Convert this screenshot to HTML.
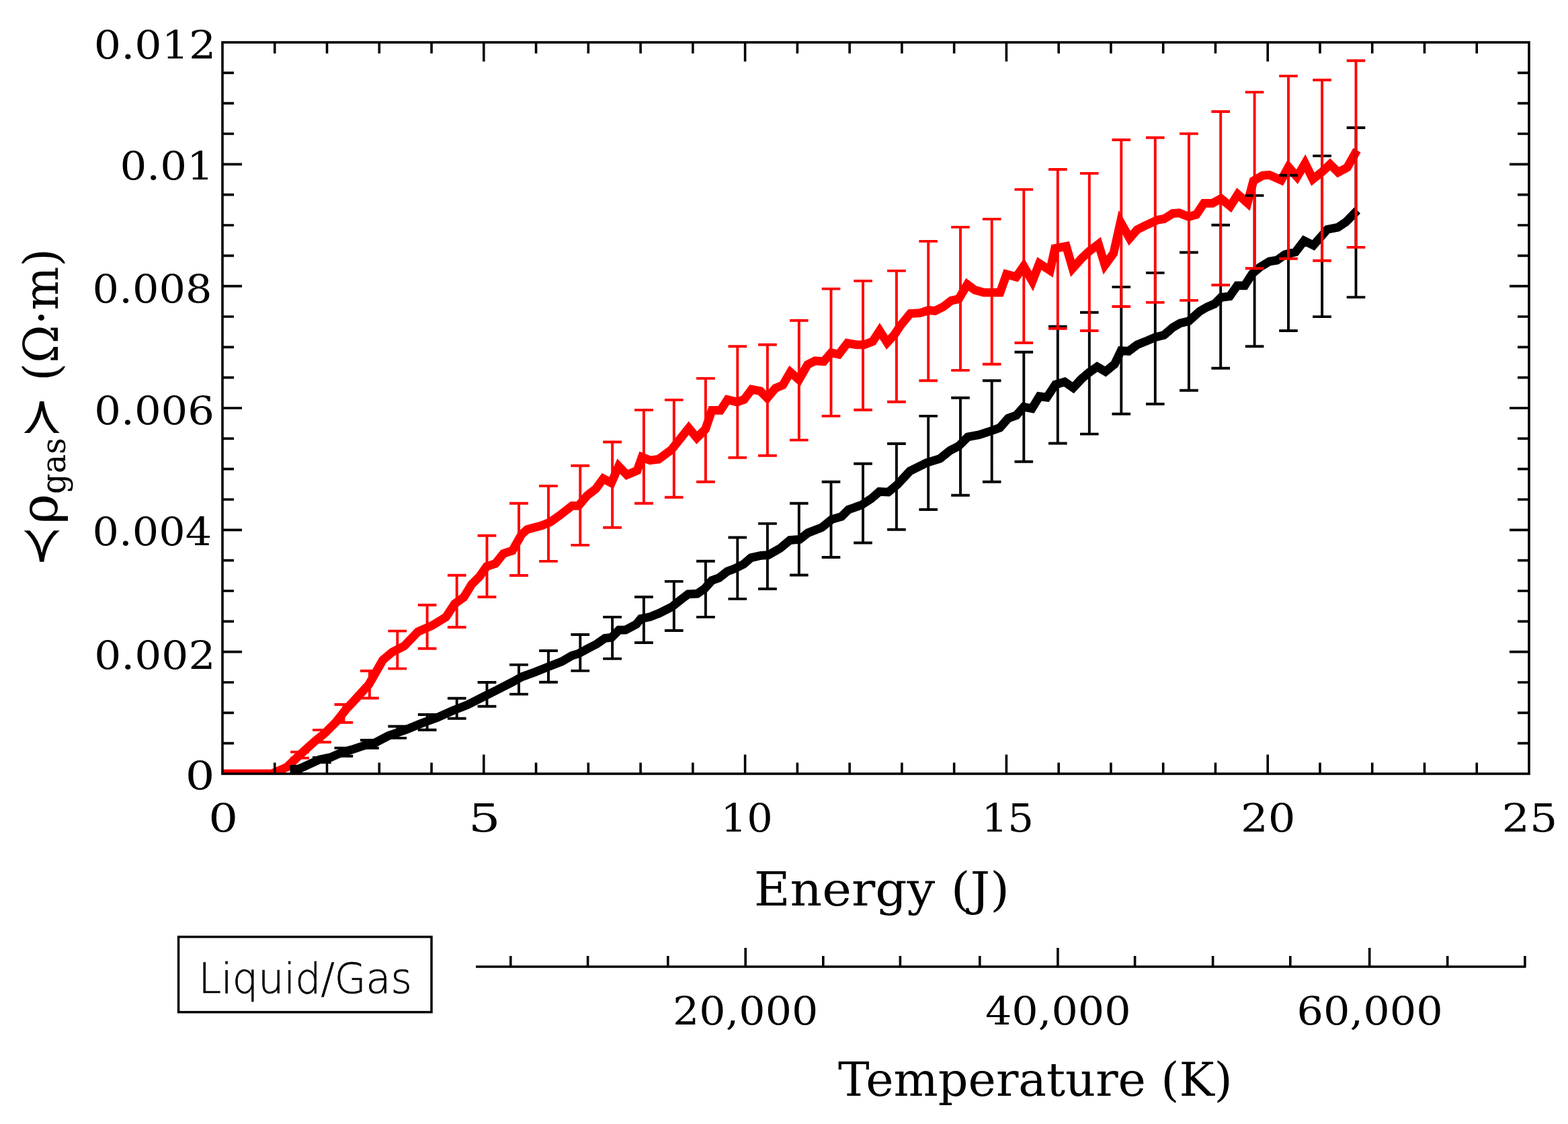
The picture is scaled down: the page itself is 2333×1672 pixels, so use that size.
<!DOCTYPE html><html><head><meta charset="utf-8"><title>Resistivity vs Energy</title><style>html,body{margin:0;padding:0;background:#fff;}body{width:2333px;height:1672px;overflow:hidden;}svg{display:block;}text{font-family:"DejaVu Serif","Liberation Serif",serif;fill:#000;}</style></head><body>
<svg width="2333" height="1672" viewBox="0 0 2333 1672">
<rect x="0" y="0" width="2333" height="1672" fill="#fff"/>
<defs><clipPath id="pc"><rect x="331.0" y="63.0" width="1944.0" height="1088.0"/></clipPath></defs>
<g clip-path="url(#pc)" fill="none" stroke-linejoin="miter" stroke-miterlimit="4">
<polyline points="331.0,1151.0 404.0,1151.0 427.0,1141.0 446.0,1123.0 468.0,1103.0 478.0,1095.0 485.0,1089.0 492.0,1082.0 500.0,1074.0 515.0,1055.0 530.0,1039.0 549.0,1018.0 569.5,982.0 583.6,970.0 601.4,961.0 622.0,939.5 642.7,930.6 663.4,918.0 676.7,898.1 690.0,888.5 701.8,869.3 713.6,857.5 724.0,842.7 737.3,838.3 749.0,823.5 762.4,819.1 776.0,795.0 784.5,787.5 806.4,781.6 819.2,776.3 832.0,767.2 851.2,752.3 860.8,752.3 873.6,737.1 886.4,727.2 897.6,712.0 909.6,718.4 920.5,693.6 932.8,706.4 948.0,700.0 955.2,680.0 967.2,684.8 980.0,683.2 999.2,668.8 1024.8,636.8 1036.8,651.2 1049.6,638.4 1059.2,610.4 1072.0,610.4 1082.4,594.5 1096.8,598.0 1107.2,594.4 1118.4,579.2 1131.2,581.6 1141.6,592.0 1153.6,577.6 1164.8,572.8 1176.0,553.6 1188.8,564.8 1201.6,542.4 1212.8,536.8 1225.6,537.6 1236.8,524.8 1248.0,527.2 1260.8,510.4 1274.4,512.8 1285.6,512.8 1298.4,508.0 1308.8,492.0 1320.0,509.6 1330.4,498.4 1340.0,484.0 1354.4,466.4 1368.8,465.6 1381.6,461.6 1391.2,462.4 1404.0,456.0 1415.2,447.2 1426.4,444.8 1439.2,423.2 1450.4,431.5 1464.0,435.2 1488.0,435.2 1497.6,408.0 1512.0,412.0 1523.2,396.0 1536.0,418.4 1546.4,392.0 1562.4,402.4 1569.6,369.6 1586.4,366.4 1596.0,399.2 1609.6,384.0 1620.8,373.6 1634.4,363.2 1644.0,394.4 1656.8,376.8 1667.2,330.4 1680.8,354.4 1692.0,341.6 1703.2,336.0 1722.4,327.2 1732.0,325.6 1744.8,317.6 1754.4,316.8 1768.8,322.4 1780.0,319.2 1791.2,302.4 1804.0,302.4 1816.7,295.5 1830.5,306.8 1841.7,289.0 1856.1,302.0 1865.0,269.0 1878.8,261.1 1888.6,260.2 1906.3,268.0 1917.1,248.3 1929.9,263.1 1941.8,243.0 1953.4,266.5 1968.0,255.0 1979.0,244.5 1991.0,256.4 2004.6,249.0 2019.0,223.5" stroke="#f00" stroke-width="12.8"/>
<polyline points="431.5,1144.4 441.0,1144.2 446.0,1143.4 475.0,1130.0 492.0,1126.5 507.0,1120.0 524.0,1115.0 545.0,1108.0 555.0,1106.5 578.0,1094.5 604.0,1085.5 626.4,1076.3 650.8,1067.4 672.9,1057.4 695.1,1048.6 717.2,1037.5 739.4,1026.4 762.1,1014.7 776.9,1006.7 795.4,1000.0 813.8,992.6 836.0,984.0 850.7,975.4 860.6,972.3 875.4,964.3 887.7,958.1 900.0,949.5 909.8,948.3 920.9,937.2 930.7,937.2 946.7,928.6 953.5,920.4 967.1,917.7 980.6,912.3 999.6,902.8 1013.1,892.0 1023.9,883.8 1037.5,883.1 1048.3,875.7 1059.1,863.5 1070.0,859.5 1082.2,850.0 1093.0,845.9 1106.5,839.1 1117.4,829.7 1132.3,826.3 1143.1,825.6 1160.5,815.8 1175.3,803.5 1190.0,802.3 1202.0,792.7 1222.7,784.6 1237.4,772.7 1252.2,768.3 1262.5,758.0 1281.7,751.3 1296.5,741.7 1308.3,731.4 1321.6,732.1 1334.9,721.1 1353.8,700.8 1378.5,688.5 1398.5,682.3 1413.8,670.0 1426.2,663.8 1440.0,650.0 1456.9,646.9 1475.4,640.8 1487.7,636.2 1500.0,622.3 1512.3,617.7 1523.1,605.4 1535.4,607.7 1546.4,589.6 1557.6,591.2 1570.4,572.0 1584.0,568.0 1596.8,576.8 1608.8,564.0 1620.0,554.4 1632.5,545.6 1644.8,552.8 1658.4,541.6 1668.0,521.6 1679.2,522.4 1692.0,512.8 1708.0,506.4 1719.2,501.6 1732.0,498.4 1744.8,487.2 1756.0,480.8 1768.8,477.6 1784.8,463.2 1796.0,456.8 1807.2,452.0 1816.8,442.4 1829.6,440.8 1840.8,424.8 1852.0,424.8 1863.2,407.2 1874.4,397.6 1888.8,388.8 1900.0,387.2 1911.8,378.7 1927.6,374.8 1940.4,358.0 1954.2,364.9 1974.9,341.3 1990.6,338.3 2002.5,330.4 2019.5,313.0" stroke="#000" stroke-width="12.8"/>
<path d="M446.0 1140.0V1151.0M432.1 1140.0H459.9M432.1 1151.0H459.9M478.9 1127.0V1134.0M465.0 1127.0H492.8M465.0 1134.0H492.8M511.4 1112.6V1124.7M497.5 1112.6H525.2M497.5 1124.7H525.2M549.9 1101.0V1112.8M536.0 1101.0H563.8M536.0 1112.8H563.8M591.3 1080.5V1097.9M577.4 1080.5H605.1M577.4 1097.9H605.1M635.6 1063.0V1085.7M621.8 1063.0H649.5M621.8 1085.7H649.5M679.7 1038.8V1068.8M665.9 1038.8H693.6M665.9 1068.8H693.6M724.5 1015.0V1050.8M710.6 1015.0H738.4M710.6 1050.8H738.4M772.0 988.9V1032.6M758.1 988.9H785.9M758.1 1032.6H785.9M816.0 968.0V1014.7M802.1 968.0H829.9M802.1 1014.7H829.9M863.3 944.0V997.9M849.4 944.0H877.1M849.4 997.9H877.1M911.1 917.9V979.9M897.2 917.9H925.0M897.2 979.9H925.0M957.9 888.0V956.0M944.0 888.0H971.8M944.0 956.0H971.8M1002.8 864.9V938.0M988.9 864.9H1016.6M988.9 938.0H1016.6M1049.9 834.8V917.9M1036.1 834.8H1063.8M1036.1 917.9H1063.8M1097.3 799.5V890.9M1083.5 799.5H1111.1M1083.5 890.9H1111.1M1141.9 778.9V876.0M1128.1 778.9H1155.8M1128.1 876.0H1155.8M1188.8 748.8V855.5M1175.0 748.8H1202.6M1175.0 855.5H1202.6M1236.5 716.8V829.0M1222.7 716.8H1250.3M1222.7 829.0H1250.3M1284.0 689.8V807.5M1270.2 689.8H1297.8M1270.2 807.5H1297.8M1333.9 660.0V787.7M1320.1 660.0H1347.8M1320.1 787.7H1347.8M1381.2 618.9V758.0M1367.4 618.9H1395.0M1367.4 758.0H1395.0M1429.0 591.8V736.7M1415.2 591.8H1442.8M1415.2 736.7H1442.8M1475.7 566.2V716.8M1461.9 566.2H1489.5M1461.9 716.8H1489.5M1523.3 523.8V686.8M1509.5 523.8H1537.1M1509.5 686.8H1537.1M1573.8 485.6V659.5M1560.0 485.6H1587.6M1560.0 659.5H1587.6M1620.8 464.8V645.6M1607.0 464.8H1634.6M1607.0 645.6H1634.6M1668.3 426.9V615.8M1654.5 426.9H1682.1M1654.5 615.8H1682.1M1718.8 405.9V601.0M1705.0 405.9H1732.6M1705.0 601.0H1732.6M1768.9 375.5V580.8M1755.1 375.5H1782.8M1755.1 580.8H1782.8M1816.2 334.7V547.8M1802.4 334.7H1830.0M1802.4 547.8H1830.0M1866.6 290.9V515.3M1852.8 290.9H1880.4M1852.8 515.3H1880.4M1917.0 260.8V492.0M1903.2 260.8H1930.8M1903.2 492.0H1930.8M1967.1 231.9V471.1M1953.2 231.9H1980.9M1953.2 471.1H1980.9M2017.5 190.0V442.1M2003.7 190.0H2031.3M2003.7 442.1H2031.3" stroke="#000" stroke-width="3.9"/>
<path d="M446.0 1118.6V1127.6M432.1 1118.6H459.9M432.1 1127.6H459.9M478.9 1085.9V1104.0M465.0 1085.9H492.8M465.0 1104.0H492.8M511.4 1048.0V1074.7M497.5 1048.0H525.2M497.5 1074.7H525.2M549.9 998.0V1038.5M536.0 998.0H563.8M536.0 1038.5H563.8M591.3 938.6V994.6M577.4 938.6H605.1M577.4 994.6H605.1M635.6 900.0V964.7M621.8 900.0H649.5M621.8 964.7H649.5M679.7 855.8V933.0M665.9 855.8H693.6M665.9 933.0H693.6M724.5 796.8V888.0M710.6 796.8H738.4M710.6 888.0H738.4M772.0 748.8V856.0M758.1 748.8H785.9M758.1 856.0H785.9M816.0 722.9V834.9M802.1 722.9H829.9M802.1 834.9H829.9M863.3 692.8V810.9M849.4 692.8H877.1M849.4 810.9H877.1M911.1 657.5V784.8M897.2 657.5H925.0M897.2 784.8H925.0M957.9 609.9V748.8M944.0 609.9H971.8M944.0 748.8H971.8M1002.8 594.9V739.7M988.9 594.9H1016.6M988.9 739.7H1016.6M1049.9 562.9V716.8M1036.1 562.9H1063.8M1036.1 716.8H1063.8M1097.3 515.2V680.8M1083.5 515.2H1111.1M1083.5 680.8H1111.1M1141.9 512.8V677.8M1128.1 512.8H1155.8M1128.1 677.8H1155.8M1188.8 476.8V654.6M1175.0 476.8H1202.6M1175.0 654.6H1202.6M1236.5 429.6V618.9M1222.7 429.6H1250.3M1222.7 618.9H1250.3M1284.0 417.9V609.8M1270.2 417.9H1297.8M1270.2 609.8H1297.8M1333.9 402.9V597.7M1320.1 402.9H1347.8M1320.1 597.7H1347.8M1381.2 358.9V566.2M1367.4 358.9H1395.0M1367.4 566.2H1395.0M1429.0 337.9V550.9M1415.2 337.9H1442.8M1415.2 550.9H1442.8M1475.7 325.9V541.8M1461.9 325.9H1489.5M1461.9 541.8H1489.5M1523.3 281.9V510.0M1509.5 281.9H1537.1M1509.5 510.0H1537.1M1573.8 252.0V488.8M1560.0 252.0H1587.6M1560.0 488.8H1587.6M1620.8 257.9V492.0M1607.0 257.9H1634.6M1607.0 492.0H1634.6M1668.3 208.0V456.0M1654.5 208.0H1682.1M1654.5 456.0H1682.1M1718.8 204.8V449.9M1705.0 204.8H1732.6M1705.0 449.9H1732.6M1768.9 198.9V446.9M1755.1 198.9H1782.8M1755.1 446.9H1782.8M1816.2 166.0V424.0M1802.4 166.0H1830.0M1802.4 424.0H1830.0M1866.6 137.1V399.3M1852.8 137.1H1880.4M1852.8 399.3H1880.4M1917.0 113.1V384.7M1903.2 113.1H1930.8M1903.2 384.7H1930.8M1967.1 119.0V387.8M1953.2 119.0H1980.9M1953.2 387.8H1980.9M2017.5 90.2V367.9M2003.7 90.2H2031.3M2003.7 367.9H2031.3" stroke="#f00" stroke-width="3.9"/>
</g>
<rect x="331.0" y="63.0" width="1944.0" height="1088.0" fill="none" stroke="#000" stroke-width="3.6"/>
<path d="M408.76 1151.0V1134.5M408.76 63.0V79.5M486.52 1151.0V1134.5M486.52 63.0V79.5M564.28 1151.0V1134.5M564.28 63.0V79.5M642.04 1151.0V1134.5M642.04 63.0V79.5M719.80 1151.0V1122.5M719.80 63.0V91.5M797.56 1151.0V1134.5M797.56 63.0V79.5M875.32 1151.0V1134.5M875.32 63.0V79.5M953.08 1151.0V1134.5M953.08 63.0V79.5M1030.84 1151.0V1134.5M1030.84 63.0V79.5M1108.60 1151.0V1122.5M1108.60 63.0V91.5M1186.36 1151.0V1134.5M1186.36 63.0V79.5M1264.12 1151.0V1134.5M1264.12 63.0V79.5M1341.88 1151.0V1134.5M1341.88 63.0V79.5M1419.64 1151.0V1134.5M1419.64 63.0V79.5M1497.40 1151.0V1122.5M1497.40 63.0V91.5M1575.16 1151.0V1134.5M1575.16 63.0V79.5M1652.92 1151.0V1134.5M1652.92 63.0V79.5M1730.68 1151.0V1134.5M1730.68 63.0V79.5M1808.44 1151.0V1134.5M1808.44 63.0V79.5M1886.20 1151.0V1122.5M1886.20 63.0V91.5M1963.96 1151.0V1134.5M1963.96 63.0V79.5M2041.72 1151.0V1134.5M2041.72 63.0V79.5M2119.48 1151.0V1134.5M2119.48 63.0V79.5M2197.24 1151.0V1134.5M2197.24 63.0V79.5M331.0 1105.67H348.0M2275.0 1105.67H2258.0M331.0 1060.33H348.0M2275.0 1060.33H2258.0M331.0 1015.00H348.0M2275.0 1015.00H2258.0M331.0 969.67H360.0M2275.0 969.67H2246.0M331.0 924.33H348.0M2275.0 924.33H2258.0M331.0 879.00H348.0M2275.0 879.00H2258.0M331.0 833.67H348.0M2275.0 833.67H2258.0M331.0 788.33H360.0M2275.0 788.33H2246.0M331.0 743.00H348.0M2275.0 743.00H2258.0M331.0 697.67H348.0M2275.0 697.67H2258.0M331.0 652.33H348.0M2275.0 652.33H2258.0M331.0 607.00H360.0M2275.0 607.00H2246.0M331.0 561.67H348.0M2275.0 561.67H2258.0M331.0 516.33H348.0M2275.0 516.33H2258.0M331.0 471.00H348.0M2275.0 471.00H2258.0M331.0 425.67H360.0M2275.0 425.67H2246.0M331.0 380.33H348.0M2275.0 380.33H2258.0M331.0 335.00H348.0M2275.0 335.00H2258.0M331.0 289.67H348.0M2275.0 289.67H2258.0M331.0 244.33H360.0M2275.0 244.33H2246.0M331.0 199.00H348.0M2275.0 199.00H2258.0M331.0 153.67H348.0M2275.0 153.67H2258.0M331.0 108.33H348.0M2275.0 108.33H2258.0" stroke="#000" stroke-width="3.6" fill="none"/>
<text x="275.7" y="1174.3" font-size="58" textLength="43.7" lengthAdjust="spacingAndGlyphs">0</text>
<text x="140.2" y="994.7" font-size="58" textLength="180.3" lengthAdjust="spacingAndGlyphs">0.002</text>
<text x="137.6" y="810.8" font-size="58" textLength="177.7" lengthAdjust="spacingAndGlyphs">0.004</text>
<text x="140.3" y="630.7" font-size="58" textLength="178.8" lengthAdjust="spacingAndGlyphs">0.006</text>
<text x="137.6" y="449.8" font-size="58" textLength="177.9" lengthAdjust="spacingAndGlyphs">0.008</text>
<text x="178.4" y="266.8" font-size="58" textLength="139.5" lengthAdjust="spacingAndGlyphs">0.01</text>
<text x="139.8" y="87.1" font-size="58" textLength="181.6" lengthAdjust="spacingAndGlyphs">0.012</text>
<text x="310.2" y="1237.4" font-size="58" textLength="43.9" lengthAdjust="spacingAndGlyphs">0</text>
<text x="696.9" y="1237.4" font-size="58" textLength="47.7" lengthAdjust="spacingAndGlyphs">5</text>
<text x="1072.6" y="1237.4" font-size="58" textLength="77.1" lengthAdjust="spacingAndGlyphs">10</text>
<text x="1460.5" y="1237.4" font-size="58" textLength="77.7" lengthAdjust="spacingAndGlyphs">15</text>
<text x="1846.1" y="1237.4" font-size="58" textLength="81.5" lengthAdjust="spacingAndGlyphs">20</text>
<text x="2234.5" y="1237.4" font-size="58" textLength="82.8" lengthAdjust="spacingAndGlyphs">25</text>
<text x="1121.7" y="1346.5" font-size="70" textLength="380.3" lengthAdjust="spacingAndGlyphs">Energy (J)</text>
<path d="M708 1438H2270.5M759.8 1438V1422M874.6 1438V1422M993.8 1438V1422M1109.2 1438V1410M1224.8 1438V1422M1339.4 1438V1422M1457.8 1438V1422M1573.9 1438V1410M1688.6 1438V1422M1804.6 1438V1422M1919.8 1438V1422M2037.7 1438V1410M2153.7 1438V1422M2268.9 1438V1422" stroke="#000" stroke-width="3.6" fill="none"/>
<text x="1001.0" y="1523.6" font-size="58" textLength="216.3" lengthAdjust="spacingAndGlyphs">20,000</text>
<text x="1465.9" y="1523.6" font-size="58" textLength="216.7" lengthAdjust="spacingAndGlyphs">40,000</text>
<text x="1929.4" y="1523.6" font-size="58" textLength="217.4" lengthAdjust="spacingAndGlyphs">60,000</text>
<text x="1247.0" y="1630.3" font-size="68.5" textLength="586.9" lengthAdjust="spacingAndGlyphs">Temperature (K)</text>
<rect x="265.6" y="1393.6" width="376.4" height="112" fill="none" stroke="#000" stroke-width="3.5"/>
<text x="295.5" y="1477.1" font-size="62.4" textLength="317.4" lengthAdjust="spacingAndGlyphs" font-weight="200" stroke="#000" stroke-width="0.7" style="font-family:'DejaVu Sans','Liberation Sans',sans-serif">Liquid/Gas</text>
<g transform="translate(85 840) rotate(-90)">
<text x="-3.5" y="0.9" font-size="76" textLength="62.0" lengthAdjust="spacingAndGlyphs" style="font-family:'DejaVu Sans','Liberation Sans',sans-serif">&#x227A;</text>
<text x="60.5" y="-0.5" font-size="76" textLength="44.9" lengthAdjust="spacingAndGlyphs">&#x3C1;</text>
<text x="105.1" y="11.6" font-size="50" textLength="83.6" lengthAdjust="spacingAndGlyphs">gas</text>
<text x="188.1" y="0.9" font-size="76" textLength="62.9" lengthAdjust="spacingAndGlyphs" style="font-family:'DejaVu Sans','Liberation Sans',sans-serif">&#x227B;</text>
<text x="273.3" y="0.5" font-size="71" textLength="196.9" lengthAdjust="spacingAndGlyphs">(&#x3A9;&#xB7;m)</text>
</g>
</svg></body></html>
